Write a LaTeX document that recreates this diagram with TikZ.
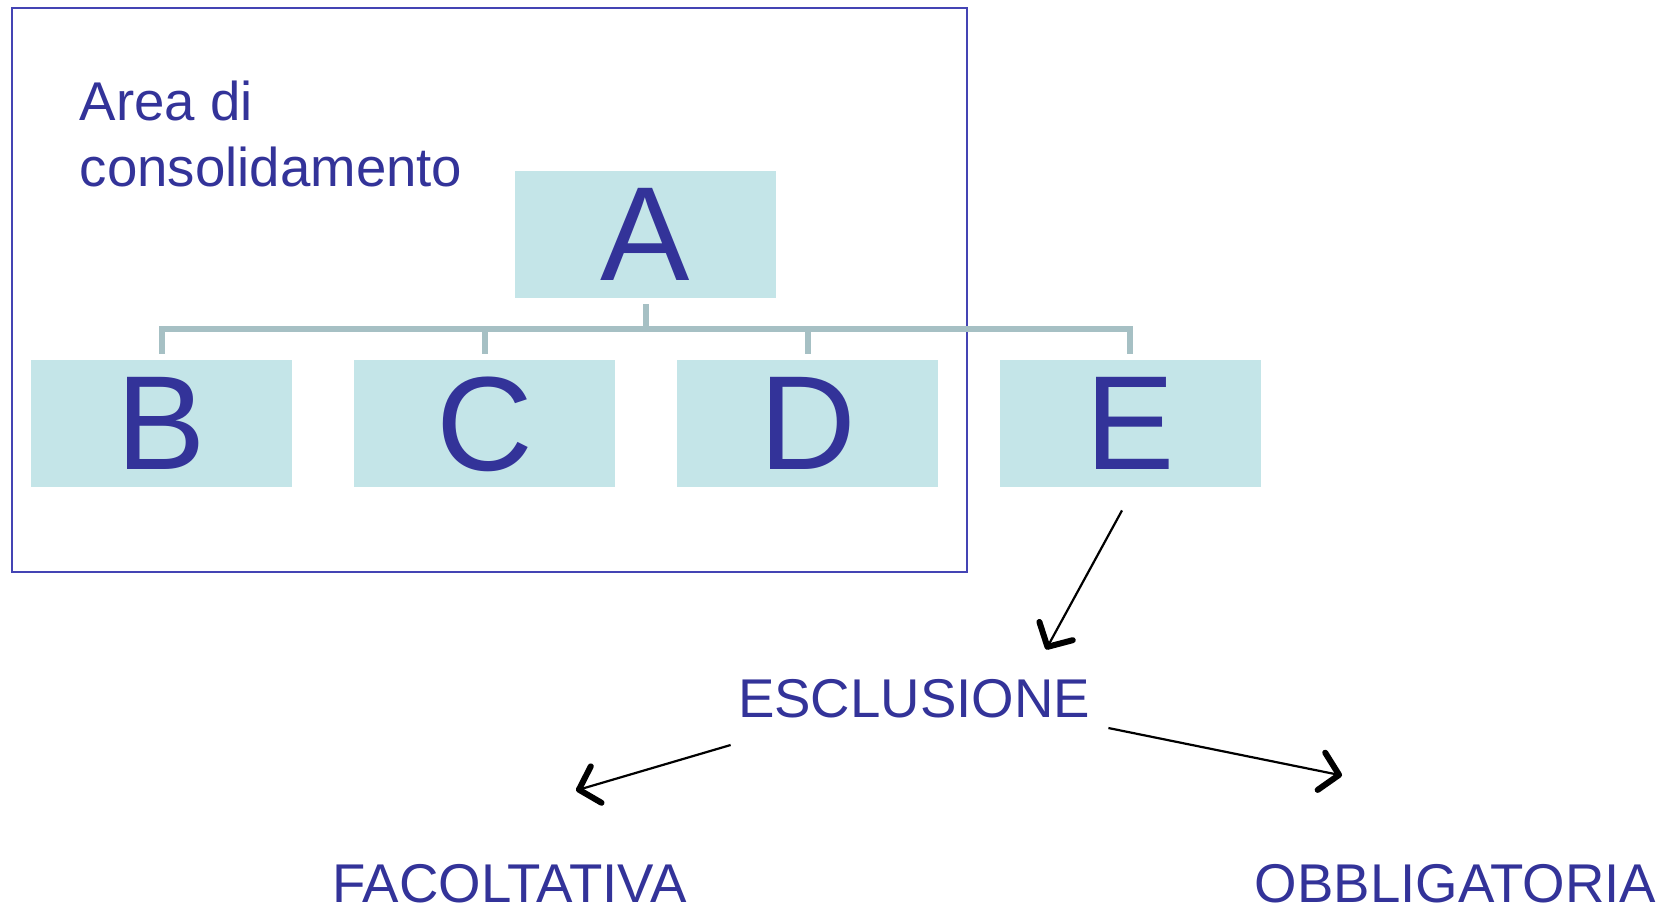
\documentclass[tikz,border=0pt]{standalone}
\usepackage{fontspec}
\setmainfont{Liberation Sans}
\usetikzlibrary{arrows.meta}
\definecolor{ink}{HTML}{333399}
\definecolor{framec}{HTML}{4444B4}
\definecolor{boxfill}{HTML}{C4E5E8}
\definecolor{treec}{HTML}{A6C0C4}

\begin{document}
\begin{tikzpicture}[x=0.5pt,y=-0.5pt,
  unitbox/.style={fill=boxfill, minimum width=130.5pt, minimum height=63.5pt,
    inner sep=0pt, text=ink, text depth=0pt, font=\fontsize{67}{67}\selectfont},
  tagtext/.style={text=ink, inner sep=0pt, font=\fontsize{27.3}{33}\selectfont},
  treeline/.style={draw=treec, line width=3pt},
  flow/.style={draw=black, line width=1.1pt,
    -{Straight Barb[length=9pt,width=19pt,line width=3pt,round]}}]

% page
\fill[white] (0,0) rectangle (1663,906);
\useasboundingbox (0,0) rectangle (1663,906);

% consolidation area
\draw[framec, line width=1pt] (12,8) rectangle (967,572);
\node[tagtext, anchor=base west, align=left] (area) at (79.5,186)
  {Area di\\consolidamento};

% group structure
\node[unitbox] (A) at (645.5,234.5) {A};
\node[unitbox] (B) at (161.5,423.5) {B};
\node[unitbox] (C) at (484.5,423.5) {C};
\node[unitbox] (D) at (807.5,423.5) {D};
\node[unitbox] (E) at (1130,423.5) {E};

\coordinate (bus) at (0,329);
\draw[treeline] ([yshift=-3pt]A.south) -- (A.south |- bus);
\draw[treeline, line join=miter] ([yshift=3pt]B.north) -- (B.north |- bus)
  -- (E.north |- bus) -- ([yshift=3pt]E.north);
\draw[treeline] (C.north |- bus) -- ([yshift=3pt]C.north);
\draw[treeline] (D.north |- bus) -- ([yshift=3pt]D.north);

% exclusion
\node[tagtext, anchor=base] (esc) at (914,717) {ESCLUSIONE};
\node[tagtext, anchor=base] (fac) at (509.5,902) {FACOLTATIVA};
\node[tagtext, anchor=base] (obb) at (1455.5,902) {OBBLIGATORIA};

\draw[flow] ([shift={(-8,23)}]E.south) -- ([shift={(132,-29)}]esc.north);
\draw[flow] ([shift={(-7,28)}]esc.base west) -- ([shift={(66.5,-73)}]fac.north);
\draw[flow] ([shift={(18,11)}]esc.base east) -- ([shift={(-113.5,-88)}]obb.north);
\end{tikzpicture}
\end{document}
